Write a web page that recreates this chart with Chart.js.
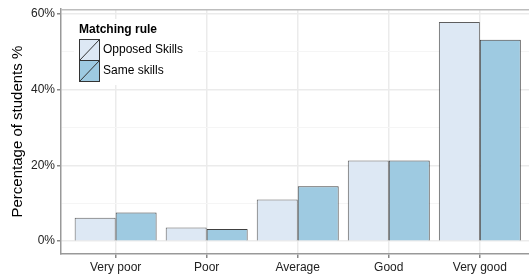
<!DOCTYPE html>
<html>
<head>
<meta charset="utf-8">
<script src="https://cdn.jsdelivr.net/npm/chart.js@4/dist/chart.umd.min.js"></script>
<style>
  html, body { margin: 0; padding: 0; background: #fff; overflow: hidden; }
  #wrap { width: 529px; height: 277px; position: relative; }
</style>
</head>
<body>
<div id="wrap"><canvas id="chart"></canvas></div>
<script>
// data
const categories = ["Very poor", "Poor", "Average", "Good", "Very good"];
const opposedSkills = [6.2, 3.6, 11.0, 21.3, 57.9];
const sameSkills = [7.6, 3.2, 14.5, 21.3, 53.2];
const yTicks = [0, 10, 20, 30, 40, 50, 60];
const seriesNames = ["Opposed Skills", "Same skills"];
const seriesColors = ["#dde8f4", "#9ecae1"];

const FONT = "'Liberation Sans', Arial, sans-serif";

// legend drawn inside the panel, ggplot style
const insideLegend = {
  id: "insideLegend",
  afterDatasetsDraw(chart) {
    const ctx = chart.ctx;
    ctx.save();
    ctx.fillStyle = "#fff";
    ctx.fillRect(74, 19, 124, 66);
    ctx.fillStyle = "#000";
    ctx.font = "bold 12px " + FONT;
    ctx.textBaseline = "middle";
    ctx.fillText("Matching rule", 79, 30);
    chart.data.datasets.forEach((ds, i) => {
      const x = 79, y = 39 + i * 21;
      ctx.fillStyle = ds.backgroundColor;
      ctx.fillRect(x, y, 20, 21);
      ctx.strokeStyle = "#333";
      ctx.lineWidth = 1;
      ctx.strokeRect(x + 0.5, y + 0.5, 20, 21);
      ctx.beginPath();
      ctx.moveTo(x + 0.5, y + 21.5);
      ctx.lineTo(x + 20.5, y + 0.5);
      ctx.stroke();
      ctx.fillStyle = "#000";
      ctx.font = "12px " + FONT;
      ctx.fillText(ds.label, 103, y + 11);
    });
    ctx.restore();
  }
};

// top border of the panel
const panelTop = {
  id: "panelTop",
  beforeDatasetsDraw(chart) {
    const { ctx, chartArea } = chart;
    ctx.save();
    ctx.strokeStyle = "#bdbdbd";
    ctx.lineWidth = 1.5;
    ctx.beginPath();
    ctx.moveTo(chartArea.left, chartArea.top + 0.5);
    ctx.lineTo(chartArea.right, chartArea.top + 0.5);
    ctx.stroke();
    ctx.restore();
  }
};

new Chart(document.getElementById("chart"), {
  type: "bar",
  data: {
    datasets: [
      {
        label: seriesNames[0],
        data: opposedSkills.map((v, i) => ({ x: i + 1, y: v })),
        backgroundColor: seriesColors[0],
        borderColor: "rgba(40,40,40,0.75)",
        borderWidth: 1,
        categoryPercentage: 0.9,
        barPercentage: 1.0
      },
      {
        label: seriesNames[1],
        data: sameSkills.map((v, i) => ({ x: i + 1, y: v })),
        backgroundColor: seriesColors[1],
        borderColor: "rgba(30,30,30,0.85)",
        borderWidth: 1,
        categoryPercentage: 0.9,
        barPercentage: 1.0
      }
    ]
  },
  options: {
    responsive: true,
    maintainAspectRatio: false,
    animation: false,
    layout: { padding: { top: 5, right: 0, left: 0, bottom: 0 } },
    plugins: {
      legend: { display: false },
      tooltip: { enabled: false }
    },
    scales: {
      x: {
        type: "linear",
        min: 0.4,
        max: 5.54,
        offset: false,
        afterBuildTicks: s => { s.ticks = categories.map((c, i) => ({ value: i + 1 })); },
        afterFit: s => { s.height = 23; },
        ticks: {
          callback: v => categories[v - 1],
          color: "#222",
          font: { family: FONT, size: 12 },
          padding: 2,
          maxRotation: 0
        },
        grid: {
          offset: false,
          color: "#ebebeb",
          lineWidth: 1.5,
          tickColor: "#888",
          tickLength: 4
        },
        border: { color: "#999", width: 1.5 }
      },
      y: {
        min: -3.4,
        max: 61.3,
        afterBuildTicks: s => { s.ticks = yTicks.map(v => ({ value: v })); },
        afterFit: s => { s.width = 61; },
        ticks: {
          callback: v => (v % 20 === 0 ? v + "%" : ""),
          color: "#222",
          font: { family: FONT, size: 12 },
          padding: 2
        },
        grid: {
          color: c => (c.tick && c.tick.value % 20 === 0 ? "#ebebeb" : "#f5f5f5"),
          lineWidth: c => (c.tick && c.tick.value % 20 === 0 ? 1.5 : 1),
          tickColor: c => (c.tick && c.tick.value % 20 === 0 ? "#888" : "rgba(0,0,0,0)"),
          tickLength: 4
        },
        border: { color: "#999", width: 1.5 },
        title: {
          display: true,
          text: "Percentage of students %",
          color: "#000",
          font: { family: FONT, size: 15 },
          padding: { top: 9, bottom: 0 }
        }
      }
    }
  },
  plugins: [panelTop, insideLegend]
});
</script>
</body>
</html>
